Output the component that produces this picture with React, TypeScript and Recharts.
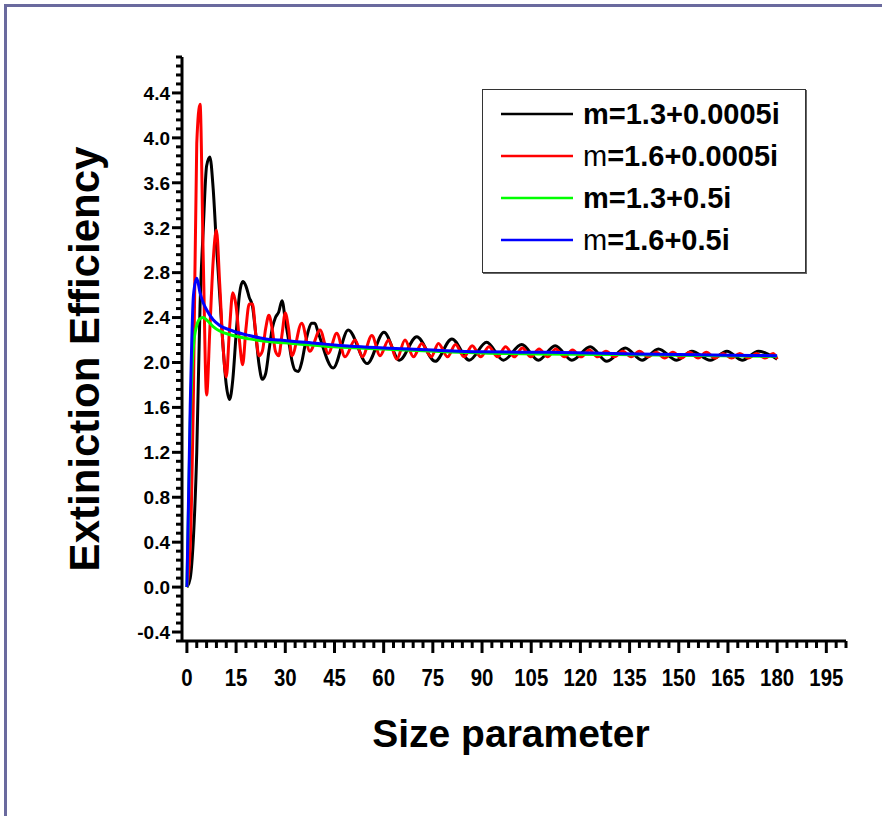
import React from "react";
import { LineChart, Line, XAxis, YAxis, Legend } from "recharts";

// m=1.3+0.0005i
const blackX = [
  0, 1, 2, 3, 4, 5, 6, 7, 8, 9, 10, 11, 12, 13, 14, 15, 16, 17, 18, 19, 20,
  21, 22, 23, 24, 25, 26, 27, 28, 29, 30, 31, 32, 33, 34, 35, 36, 37, 38, 39, 40,
  44.6, 49.2, 55, 60.1, 64.8, 70.1, 75.7, 80.8, 86.1, 91.4, 96.5, 102.1, 107.2,
  112.3, 117.4, 123, 128.1, 133.7, 138.8, 143.8, 149.4, 154, 159.6, 164.7, 169.3,
  174.3, 180,
];
const blackQ = [
  0, 0.08, 0.45, 1.2, 2.5, 3.2, 3.75, 3.83, 3.55, 3.05, 2.6, 2.15, 1.8, 1.67,
  1.85, 2.25, 2.6, 2.72, 2.68, 2.58, 2.5, 2.25, 1.98, 1.85, 1.9, 2.1, 2.3, 2.4,
  2.45, 2.55, 2.38, 2.2, 2.02, 1.93, 1.92, 2.0, 2.15, 2.28, 2.35, 2.35, 2.27,
  1.95, 2.29, 1.99, 2.27, 2.02, 2.23, 2.01, 2.21, 2.02, 2.18, 2.02, 2.16, 2.02,
  2.15, 2.02, 2.14, 2.01, 2.13, 2.02, 2.12, 2.02, 2.1, 2.02, 2.1, 2.02, 2.1, 2.03,
];

// m=1.6+0.0005i
const redX = [
  0, 1, 2, 3, 4, 5, 6, 7, 8, 9, 10, 11, 12, 13, 14, 15, 16, 17, 18, 19, 20, 21,
  22, 23, 24, 25, 26, 27, 28, 29, 30, 31, 32,
  35, 37.5, 40.6, 43.1, 45.7, 48.2, 51.3, 53.5, 56.4, 58.9, 61.5, 64, 66.5, 69.1,
  71.6, 74.5, 76.7, 79.5, 81.9, 84.5, 87, 89.6, 92.1, 94.7, 97.2, 99.8, 102.3,
  104.9, 107.4, 110, 112.5, 115.1, 117.6, 120.2, 122.7, 125.3, 127.8, 130.4,
  132.9, 135.5, 138, 140.6, 143.1, 145.7, 148.2, 150.8, 153.3, 155.9, 158.4, 161,
  163.5, 166.1, 168.6, 171.2, 173.7, 176.3, 178.8, 180,
];
const redQ = [
  0, 0.35, 1.75, 3.95, 4.3, 2.9, 1.71, 2.3, 2.9, 3.18, 2.7, 2.15, 1.87, 2.3, 2.62,
  2.5, 2.2, 1.98, 2.3, 2.52, 2.52, 2.25, 2.06, 2.1, 2.3, 2.42, 2.3, 2.1, 2.06,
  2.25, 2.44, 2.3, 2.06,
  2.35, 2.1, 2.29, 2.08, 2.26, 2.05, 2.2, 2.05, 2.24, 2.06, 2.2, 2.03, 2.2, 2.05,
  2.17, 2.05, 2.17, 2.05, 2.16, 2.05, 2.15, 2.05, 2.14, 2.05, 2.14, 2.05, 2.13,
  2.05, 2.12, 2.05, 2.12, 2.05, 2.11, 2.05, 2.11, 2.05, 2.1, 2.05, 2.1, 2.05, 2.1,
  2.05, 2.09, 2.04, 2.09, 2.04, 2.09, 2.04, 2.09, 2.04, 2.08, 2.04, 2.08, 2.04,
  2.08, 2.04, 2.08, 2.03,
];

// m=1.3+0.5i
const greenX = [0, 1, 2, 3, 4, 5, 6, 8, 10, 14, 19, 24, 32, 45, 60, 90, 130, 180];
const greenQ = [
  0, 1.45, 2.15, 2.33, 2.39, 2.4, 2.38, 2.32, 2.28, 2.24, 2.21, 2.19, 2.17, 2.14,
  2.12, 2.085, 2.07, 2.055,
];

// m=1.6+0.5i
const blueX = [
  0, 1, 2, 3, 4, 5, 6, 8, 10, 14, 19, 24, 28.5, 32, 40, 45, 50, 60, 75, 90, 110,
  130, 150, 165, 180,
];
const blueQ = [
  0, 1.6, 2.6, 2.75, 2.62, 2.53, 2.47, 2.38, 2.33, 2.28, 2.24, 2.21, 2.2, 2.19,
  2.17, 2.155, 2.145, 2.13, 2.11, 2.095, 2.09, 2.08, 2.07, 2.065, 2.06,
];

const xMajor = [0, 15, 30, 45, 60, 75, 90, 105, 120, 135, 150, 165, 180, 195];
const yMajor = [-0.4, 0, 0.4, 0.8, 1.2, 1.6, 2.0, 2.4, 2.8, 3.2, 3.6, 4.0, 4.4];

const xTicks: number[] = [];
for (let i = 0; i <= 67; i++) xTicks.push(i * 3);
const yTicks: number[] = [];
for (let i = 0; i <= 65; i++) yTicks.push(Math.round((-0.48 + i * 0.08) * 100) / 100);

const toPoints = (xs: number[], qs: number[]) => xs.map((x, i) => ({ x, q: qs[i] }));

const series = [
  { name: "m=1.3+0.0005i", color: "#000000", data: toPoints(blackX, blackQ), thinM: false },
  { name: "m=1.6+0.0005i", color: "#ff0000", data: toPoints(redX, redQ), thinM: true },
  { name: "m=1.3+0.5i", color: "#00ff00", data: toPoints(greenX, greenQ), thinM: false },
  { name: "m=1.6+0.5i", color: "#0000ff", data: toPoints(blueX, blueQ), thinM: true },
];

const FONT = "'Liberation Sans', Arial, Helvetica, sans-serif";

const isMajor = (list: number[], v: number) => list.some((m) => Math.abs(m - v) < 1e-6);

const XTick = (props: any) => {
  const { x, y, payload } = props;
  const major = isMajor(xMajor, payload.value);
  return (
    <g>
      <line x1={x} y1={y} x2={x} y2={y + (major ? 12 : 7)} stroke="#000" strokeWidth={3} />
      {major && (
        <text
          transform={`translate(${x},${y + 45}) scale(0.85,1)`}
          textAnchor="middle"
          fontFamily={FONT}
          fontWeight="bold"
          fontSize={24}
          fill="#000"
        >
          {payload.value}
        </text>
      )}
    </g>
  );
};

const YTick = (props: any) => {
  const { x, y, payload } = props;
  const major = isMajor(yMajor, payload.value);
  return (
    <g>
      <line x1={x} y1={y} x2={x - (major ? 10 : 6)} y2={y} stroke="#000" strokeWidth={3} />
      {major && (
        <text
          x={x - 12}
          y={y}
          dy="0.36em"
          textAnchor="end"
          fontFamily={FONT}
          fontWeight="bold"
          fontSize={19}
          fill="#000"
        >
          {payload.value.toFixed(1)}
        </text>
      )}
    </g>
  );
};

const YTitle = (props: any) => {
  const { x, y, height } = props.viewBox;
  return (
    <text
      transform={`translate(${x + 17},${y + height / 2 + 10}) rotate(-90)`}
      textAnchor="middle"
      fontFamily={FONT}
      fontWeight="bold"
      fontSize={42}
      fill="#000"
    >
      Extiniction Efficiency
    </text>
  );
};

const XTitle = (props: any) => {
  const { x, y, width } = props.viewBox;
  return (
    <text
      x={x + width / 2 - 3}
      y={y + 106}
      textAnchor="middle"
      fontFamily={FONT}
      fontWeight="bold"
      fontSize={39}
      fill="#000"
    >
      Size parameter
    </text>
  );
};

const LegendBox = () => (
  <div
    style={{
      boxSizing: "border-box",
      width: 324,
      height: 184,
      border: "1.5px solid #333",
      boxShadow: "1px 1px 0 #666",
      background: "#fff",
      paddingTop: 3,
      paddingLeft: 18,
      fontFamily: FONT,
    }}
  >
    {series.map((s) => (
      <div key={s.name} style={{ height: 42, display: "flex", alignItems: "center" }}>
        <svg width={72} height={6} style={{ display: "block" }}>
          <line x1={0} y1={3} x2={72} y2={3} stroke={s.color} strokeWidth={2.5} />
        </svg>
        <span style={{ marginLeft: 10, fontSize: 29, fontWeight: "bold", color: "#000", lineHeight: 1 }}>
          {s.thinM ? <span style={{ fontWeight: "normal" }}>m</span> : "m"}
          {s.name.slice(1)}
        </span>
      </div>
    ))}
  </div>
);

export default function App() {
  return (
    <div style={{ position: "absolute", left: 0, top: 0, width: 882, height: 816, background: "#fff" }}>
      <div
        style={{
          position: "absolute",
          left: 4,
          top: 4,
          width: 878,
          height: 812,
          boxSizing: "border-box",
          borderTop: "3px solid #6a6a9e",
          borderLeft: "3px solid #6a6a9e",
        }}
      />
      <div style={{ position: "absolute", left: 0, top: 0 }}>
        <LineChart width={882} height={816} margin={{ top: 57, right: 36, bottom: 75, left: 82 }}>
          <XAxis
            type="number"
            dataKey="x"
            domain={[-1.5, 201]}
            allowDataOverflow
            ticks={xTicks}
            interval={0}
            tick={<XTick />}
            tickLine={false}
            tickSize={0}
            tickMargin={0}
            axisLine={{ stroke: "#000", strokeWidth: 3 }}
            height={100}
            label={{ content: <XTitle /> }}
          />
          <YAxis
            type="number"
            dataKey="q"
            domain={[-0.48, 4.72]}
            allowDataOverflow
            ticks={yTicks}
            interval={0}
            tick={<YTick />}
            tickLine={false}
            tickSize={0}
            tickMargin={0}
            axisLine={{ stroke: "#000", strokeWidth: 3 }}
            width={100}
            label={{ content: <YTitle /> }}
          />
          <Legend
            content={<LegendBox />}
            layout="vertical"
            align="center"
            verticalAlign="middle"
            wrapperStyle={{ left: 482, top: 89, width: 324, height: 184 }}
          />
          {series.map((s) => (
            <Line
              key={s.name}
              data={s.data}
              dataKey="q"
              name={s.name}
              type="monotone"
              stroke={s.color}
              strokeWidth={3}
              dot={false}
              activeDot={false}
              isAnimationActive={false}
            />
          ))}
        </LineChart>
      </div>
    </div>
  );
}
